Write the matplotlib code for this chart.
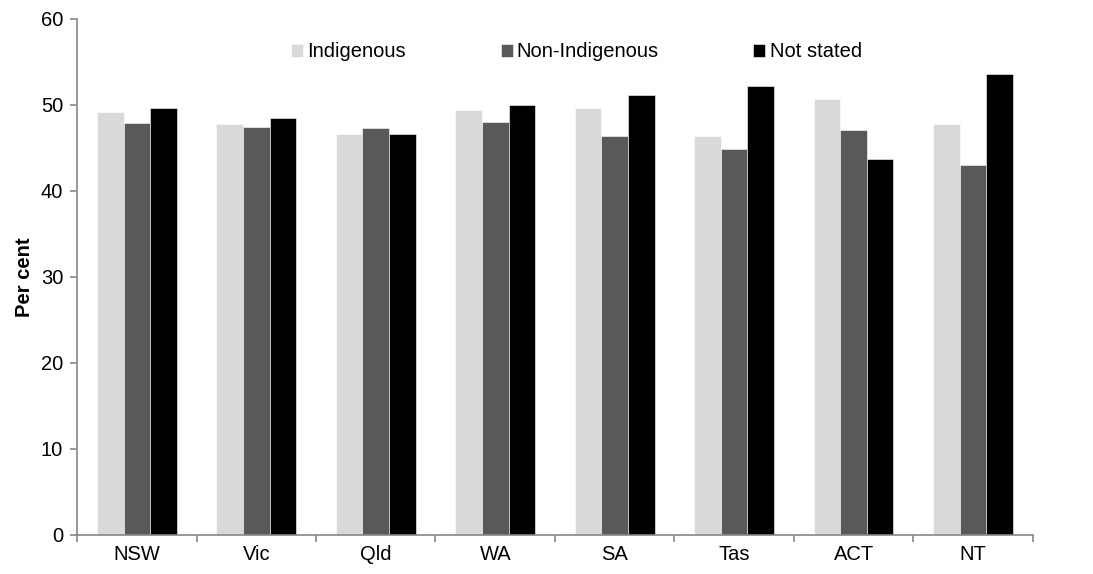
import numpy as np
import matplotlib.pyplot as plt

plt.rcParams['font.family'] = ['Liberation Sans', 'DejaVu Sans']

states = ['NSW', 'Vic', 'Qld', 'WA', 'SA', 'Tas', 'ACT', 'NT']
indigenous = [49.2, 47.8, 46.6, 49.4, 49.7, 46.4, 50.7, 47.8]
non_indigenous = [47.9, 47.4, 47.3, 48.0, 46.4, 44.9, 47.1, 43.0]
not_stated = [49.6, 48.5, 46.6, 50.0, 51.2, 52.2, 43.7, 53.6]

series = [('Indigenous', indigenous, '#d9d9d9'),
          ('Non-Indigenous', non_indigenous, '#595959'),
          ('Not stated', not_stated, '#000000')]

fs = 14.5

fig = plt.figure(figsize=(10.93, 5.74), dpi=100)
ax = fig.add_axes([0.0705, 0.068, 0.8745, 0.899])

x = np.arange(len(states))
w = 1 / 4.5
for i, (name, vals, col) in enumerate(series):
    ax.bar(x + (i - 1) * w, vals, width=w, color=col, label=name,
           edgecolor='white', linewidth=0.4)

ax.set_xlim(-0.5, len(states) - 0.5)
ax.set_ylim(0, 60)
ax.set_yticks(range(0, 61, 10))
ax.set_xticks(x)
ax.set_xticklabels(states)
ax.set_xticks(np.arange(-0.5, len(states), 1), minor=True)
ax.tick_params(axis='x', which='major', length=0, pad=7, labelsize=fs)
ax.tick_params(axis='x', which='minor', length=5, color='#868686', width=1.2)
ax.tick_params(axis='y', length=5, color='#868686', width=1.2, labelsize=fs, pad=5)

for s in ['top', 'right']:
    ax.spines[s].set_visible(False)
for s in ['left', 'bottom']:
    ax.spines[s].set_color('#868686')
    ax.spines[s].set_linewidth(1.2)

ax.set_ylabel('Per cent', fontweight='bold', fontsize=fs, labelpad=5)

ax.legend(loc='upper left', bbox_to_anchor=(0.205, 0.99), ncol=3, frameon=False,
          fontsize=fs, handlelength=0.6, handleheight=0.6, handletextpad=0.2,
          columnspacing=4.7)

fig.savefig('out.png', dpi=100)
